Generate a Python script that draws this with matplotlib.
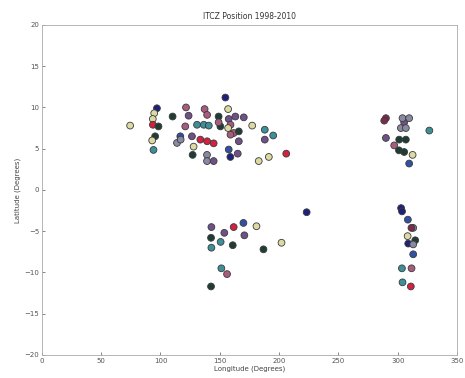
import numpy as np
import matplotlib.pyplot as plt

# ITCZ positions (longitude, latitude)
lon = [74.4, 97.0, 94.7, 93.5, 93.6, 98.3, 95.5, 93.0, 94.1,
       110.2, 121.5, 123.7, 120.9, 116.7, 113.9, 117.0, 126.5, 127.9, 127.1,
       130.8, 136.5, 140.7, 137.2, 139.3, 133.6, 139.3, 144.8,
       139.2, 139.2, 144.8, 149.0, 150.5, 154.7, 157.0, 157.5, 157.5, 158.9,
       165.1, 163.1, 170.2, 159.0, 161.7, 166.0, 159.0, 166.0, 177.3, 187.9,
       187.9, 195.0, 182.8, 191.3, 206.0, 157.0, 149.0,
       290.0, 288.6, 290.0, 297.0, 301.0, 305.4, 312.5, 309.6, 301.2, 306.8,
       302.6, 305.4, 304.0, 309.6, 306.8, 326.6,
       142.9, 153.8, 161.7, 169.9, 180.9, 170.7, 142.6, 150.7, 160.9, 142.9,
       186.8, 202.0, 223.2, 151.3, 156.1, 142.6,
       302.8, 303.6, 308.5, 313.0, 311.5, 308.3, 314.7, 308.8, 313.0, 313.0,
       303.5, 311.6, 304.0, 311.0]
lat = [7.8, 9.9, 9.3, 8.6, 7.9, 7.7, 6.5, 6.0, 4.85,
       8.9, 10.0, 9.0, 7.7, 6.5, 5.7, 6.1, 6.5, 5.25, 4.25,
       7.9, 7.9, 7.8, 9.8, 9.1, 6.1, 5.9, 5.65,
       4.25, 3.5, 3.5, 8.9, 7.7, 11.2, 9.8, 8.6, 4.9, 4.0,
       4.4, 8.9, 8.8, 7.9, 6.9, 7.1, 6.7, 5.9, 7.8, 7.3,
       6.1, 6.6, 3.5, 4.0, 4.4, 7.5, 8.2,
       8.7, 8.4, 6.3, 5.4, 4.8, 4.6, 4.25, 3.2, 6.1, 6.1,
       7.5, 8.2, 8.7, 8.7, 7.5, 7.2,
       -4.5, -5.2, -4.5, -4.0, -4.4, -5.5, -5.8, -6.3, -6.7, -7.0,
       -7.2, -6.4, -2.7, -9.5, -10.2, -11.7,
       -2.2, -2.6, -3.6, -4.6, -4.6, -5.6, -6.1, -6.5, -6.6, -7.8,
       -9.5, -9.5, -11.2, -11.7]
col = ['yellow', 'navy', 'yellow', 'yellow', 'red', 'dkgreen', 'dkgreen', 'yellow', 'teal',
       'dkgreen', 'pink', 'purple', 'pink', 'blue', 'gray', 'gray', 'purple', 'yellow', 'dkgreen',
       'teal', 'teal', 'teal', 'pink', 'pink', 'red', 'red', 'red',
       'gray', 'gray', 'purple', 'dkgreen', 'dkgreen', 'navy', 'yellow', 'purple', 'blue', 'navy',
       'purple', 'purple', 'purple', 'pink', 'pink', 'dkgreen', 'pink', 'purple', 'yellow', 'teal',
       'purple', 'teal', 'yellow', 'yellow', 'red', 'yellow', 'pink',
       'maroon', 'maroon', 'purple', 'pink', 'dkgreen', 'dkgreen', 'yellow', 'blue', 'dkgreen', 'dkgreen',
       'gray', 'purple', 'gray', 'gray', 'gray', 'teal',
       'purple', 'purple', 'red', 'blue', 'yellow', 'purple', 'dkgreen', 'teal', 'dkgreen', 'teal',
       'dkgreen', 'yellow', 'navy', 'teal', 'pink', 'dkgreen',
       'navy', 'navy', 'blue', 'gray', 'maroon', 'yellow', 'dkgreen', 'navy', 'gray', 'blue',
       'teal', 'pink', 'teal', 'red']

palette = {'teal': '#3d8f98', 'dkgreen': '#1f3d34', 'navy': '#1d2179',
           'purple': '#6f5088', 'pink': '#a95b7d', 'red': '#d3213f',
           'yellow': '#dcd9a3', 'blue': '#3050a5', 'gray': '#8a89a3',
           'maroon': '#7b2b4b'}

fig = plt.figure(figsize=(4.65, 3.78), dpi=100)
ax = fig.add_axes([0.09, 0.061, 0.893, 0.873])

ax.scatter(lon, lat, s=24, c=[palette[k] for k in col],
           edgecolors='#3a3a3a', linewidths=0.6, zorder=3)

ax.set_xlim(0, 350)
ax.set_ylim(-20, 20)
ax.set_xticks(np.arange(0, 351, 50))
ax.set_yticks(np.arange(-20, 21, 5))
ax.tick_params(direction='in', length=2, width=0.5, labelsize=5,
               colors='#555555', top=False, right=False, pad=2)
for s in ax.spines.values():
    s.set_color('#aaaaaa')
    s.set_linewidth(0.6)

ax.set_title("ITCZ Position 1998-2010", fontsize=5.5, color='#333333', pad=4)
ax.set_xlabel("Longitude (Degrees)", fontsize=5, color='#444444', labelpad=1)
ax.set_ylabel("Latitude (Degrees)", fontsize=5, color='#444444', labelpad=2)

fig.savefig("out.png", dpi=100)
